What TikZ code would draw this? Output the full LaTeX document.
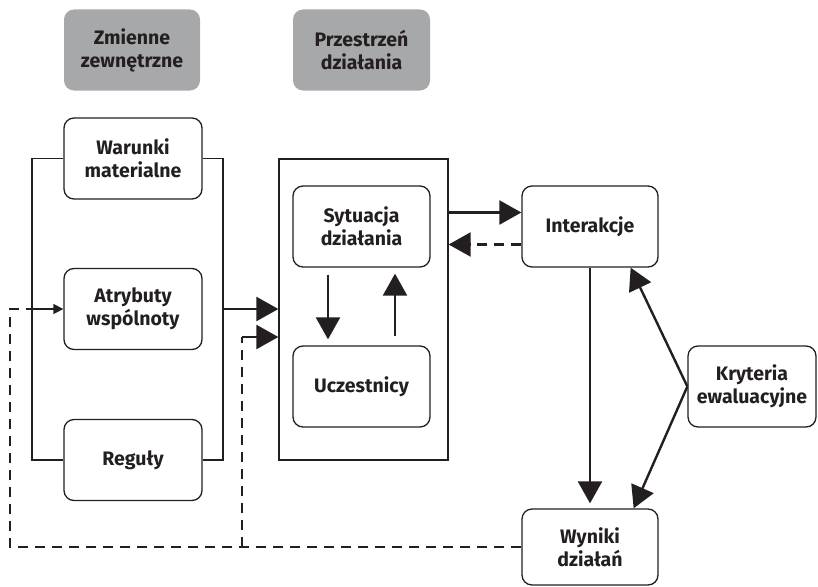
\documentclass[tikz,border=0pt]{standalone}
\usepackage{fontspec}
\setmainfont{Fira Sans}
\usepackage{tikz}
\usetikzlibrary{arrows.meta,positioning,calc}
\definecolor{boxgray}{HTML}{A7A8AA}
\definecolor{inkdark}{HTML}{231F20}
\tikzset{
  blok/.style={draw=inkdark, line width=1.3pt, rounded corners=10pt,
    minimum width=138pt, minimum height=81pt, align=center, inner sep=2pt,
    font=\bfseries\fontsize{19.5}{23}\selectfont, text=inkdark},
  szary/.style={blok, draw=none, fill=boxgray},
  ramka/.style={draw=inkdark, line width=1.3pt, minimum width=169pt, minimum height=301pt},
  grot/.style={draw=inkdark, line width=2.4pt, -{Triangle[length=22pt,width=24pt]}},
  grotmaly/.style={draw=inkdark, line width=1.4pt, -{Triangle[length=10pt,width=10pt]}},
  kreski/.style={draw=inkdark, line width=2.2pt, dash pattern=on 10pt off 7pt},
  klamra/.style={draw=inkdark, line width=1.6pt}
}

\begin{document}
\begin{tikzpicture}[x=1pt,y=-1pt]
  \useasboundingbox (0,0) rectangle (818,586);

  % naglowki
  \node[szary, minimum width=136pt] (zmienne) at (132,50) {Zmienne\\zewnętrzne};
  \node[szary, minimum width=137pt] (przestrzen) at (361.5,50) {Przestrzeń\\działania};

  % zmienne zewnetrzne
  \node[blok] (warunki) at (133,158.5) {Warunki\\materialne};
  \node[blok] (atrybuty) at (133,309) {Atrybuty\\wspólnoty};
  \node[blok] (reguly) at (133,460) {Reguły};

  % przestrzen dzialania
  \node[ramka] (arena) at (363.5,309.5) {};
  \node[blok, minimum width=137pt] (sytuacja) at (361.5,226.5) {Sytuacja\\działania};
  \node[blok, minimum width=137pt] (uczestnicy) at (361.5,386.5) {Uczestnicy};

  % prawa strona
  \node[blok, minimum width=136pt] (interakcje) at (590,226.5) {Interakcje};
  \node[blok, minimum width=128pt] (kryteria) at (752,386.5) {Kryteria\\ewaluacyjne};
  \node[blok, minimum width=136pt, minimum height=76pt] (wyniki) at (590,547) {Wyniki\\działań};

  % klamry
  \coordinate (klL) at (32,309);
  \coordinate (klP) at (223,309);
  \draw[klamra] (warunki.west) -| (klL) |- (reguly.west);
  \draw[klamra] (warunki.east) -| (klP) |- (reguly.east);
  \draw[grotmaly] (klL) -- (atrybuty.west);
  \draw[grot] (klP) -- (klP -| arena.west);

  % sprzezenia zwrotne
  \coordinate (zwL) at (10,309);
  \coordinate (zwS) at (242,337);
  \draw[kreski] (wyniki.west) -| (zwL) -- (klL);
  \draw[kreski] (zwS |- wyniki.west) -- (zwS);
  \draw[grot] (zwS) -- (zwS -| arena.west);

  % wewnatrz areny
  \draw[grot, shorten <=7pt, shorten >=6pt] ([xshift=-33.5pt]sytuacja.south) -- ([xshift=-33.5pt]uczestnicy.north);
  \draw[grot, shorten <=9pt, shorten >=6pt] ([xshift=33.5pt]uczestnicy.north) -- ([xshift=33.5pt]sytuacja.south);

  % arena - interakcje
  \coordinate (iaG) at ($(interakcje.west)+(0,-14)$);
  \coordinate (iaD) at ($(interakcje.west)+(0,18)$);
  \draw[grot] (arena.east |- iaG) -- (iaG);
  \draw[kreski, -{Triangle[length=22pt,width=24pt]}] (iaD) -- (arena.east |- iaD);

  % wyniki i kryteria
  \draw[grot, shorten >=5pt] (interakcje.south) -- (wyniki.north);
  \draw[grot] (kryteria.west) -- ([xshift=-28pt]interakcje.south east);
  \draw[grot] (kryteria.west) -- ([xshift=-25pt]wyniki.north east);
\end{tikzpicture}
\end{document}
